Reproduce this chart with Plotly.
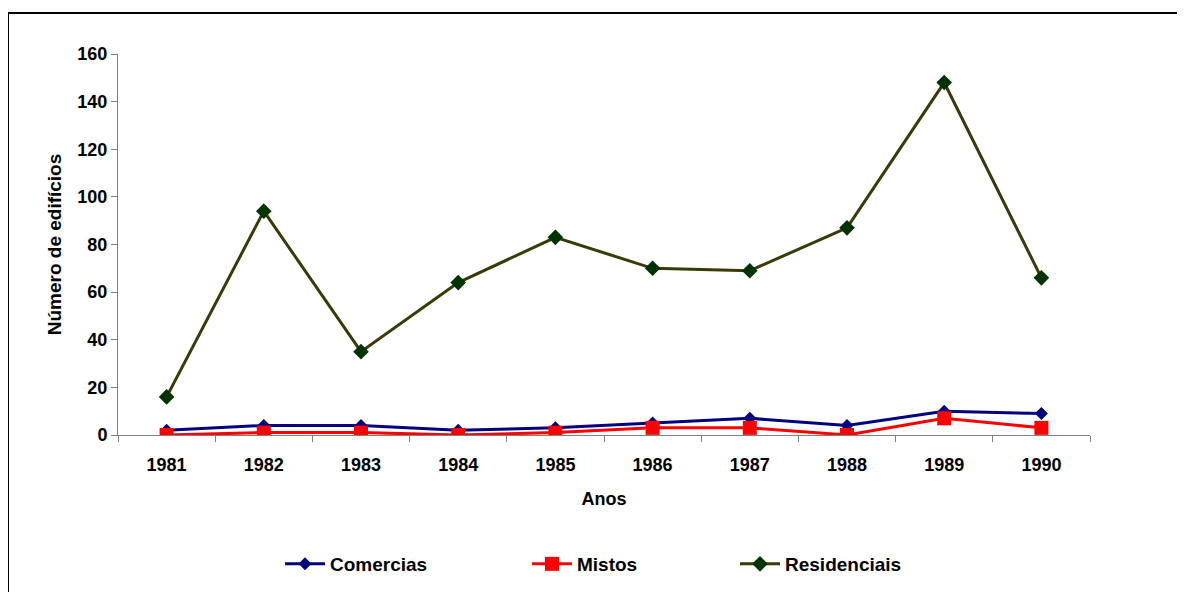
import plotly.graph_objects as go

anos = ["1981", "1982", "1983", "1984", "1985", "1986", "1987", "1988", "1989", "1990"]
comercias = [2, 4, 4, 2, 3, 5, 7, 4, 10, 9]
mistos = [0, 1, 1, 0, 1, 3, 3, 0, 7, 3]
residenciais = [16, 94, 35, 64, 83, 70, 69, 87, 148, 66]

OFF = 8  # page body margin of the html output
W, H = 1185 - OFF, 592 - OFF
L, R, T, B = 118, 1090, 54, 435  # plot area box in screenshot pixels


def px(x):
    return (x - L) / (R - L)


def py(y):
    return (B - y) / (B - T)


FONT = "Liberation Sans, Arial, sans-serif"

fig = go.Figure()
fig.add_trace(go.Scatter(
    x=anos, y=comercias, name="Comercias", mode="lines+markers",
    line=dict(color="#000080", width=3),
    marker=dict(symbol="diamond", size=10, color="#000080"),
    legend="legend"))
fig.add_trace(go.Scatter(
    x=anos, y=mistos, name="Mistos", mode="lines+markers",
    line=dict(color="#FF0000", width=3),
    marker=dict(symbol="square", size=14, color="#FF0000"),
    legend="legend2"))
fig.add_trace(go.Scatter(
    x=anos, y=residenciais, name="Residenciais", mode="lines+markers",
    line=dict(color="#3A3A08", width=3),
    marker=dict(symbol="diamond", size=12, color="#003300"),
    legend="legend3"))


def leg(x):
    return dict(x=x, y=py(564), orientation="h", yanchor="middle", xanchor="left",
                itemwidth=40,
                font=dict(family=FONT, size=19, color="black", weight="bold"),
                bgcolor="rgba(0,0,0,0)", borderwidth=0)


fig.update_layout(
    width=W, height=H,
    margin=dict(l=L - OFF, r=W - (R - OFF), t=T - OFF, b=H - (B - OFF), autoexpand=False),
    paper_bgcolor="white", plot_bgcolor="white",
    font=dict(family=FONT, color="black"),
    showlegend=True,
    legend=leg(px(280)),
    legend2=leg(px(527)),
    legend3=leg(px(735)),
    xaxis=dict(
        type="category", range=[-0.5, len(anos) - 0.5],
        tickson="boundaries", ticks="outside", ticklen=6,
        tickcolor="#808080", showline=True, linecolor="#808080", linewidth=1,
        showgrid=False, zeroline=False, ticklabelstandoff=13,
        tickfont=dict(family=FONT, size=18, color="black", weight="bold"),
        title=dict(text="Anos", font=dict(family=FONT, size=18, weight="bold"), standoff=18),
    ),
    yaxis=dict(
        range=[0, 160], dtick=20, ticks="outside", ticklen=6,
        tickcolor="#808080", showline=True, linecolor="#808080", linewidth=1,
        showgrid=False, zeroline=False,
        tickfont=dict(family=FONT, size=18, color="black", weight="bold"),
        title=dict(text="Número de edifícios", font=dict(family=FONT, size=19, weight="bold"), standoff=10),
    ),
    shapes=[dict(type="rect", xref="paper", yref="paper",
                 x0=px(8), x1=px(1200), y0=py(610), y1=py(13),
                 line=dict(color="black", width=2), fillcolor="rgba(0,0,0,0)",
                 layer="below")],
)

fig.write_html("out.html")
